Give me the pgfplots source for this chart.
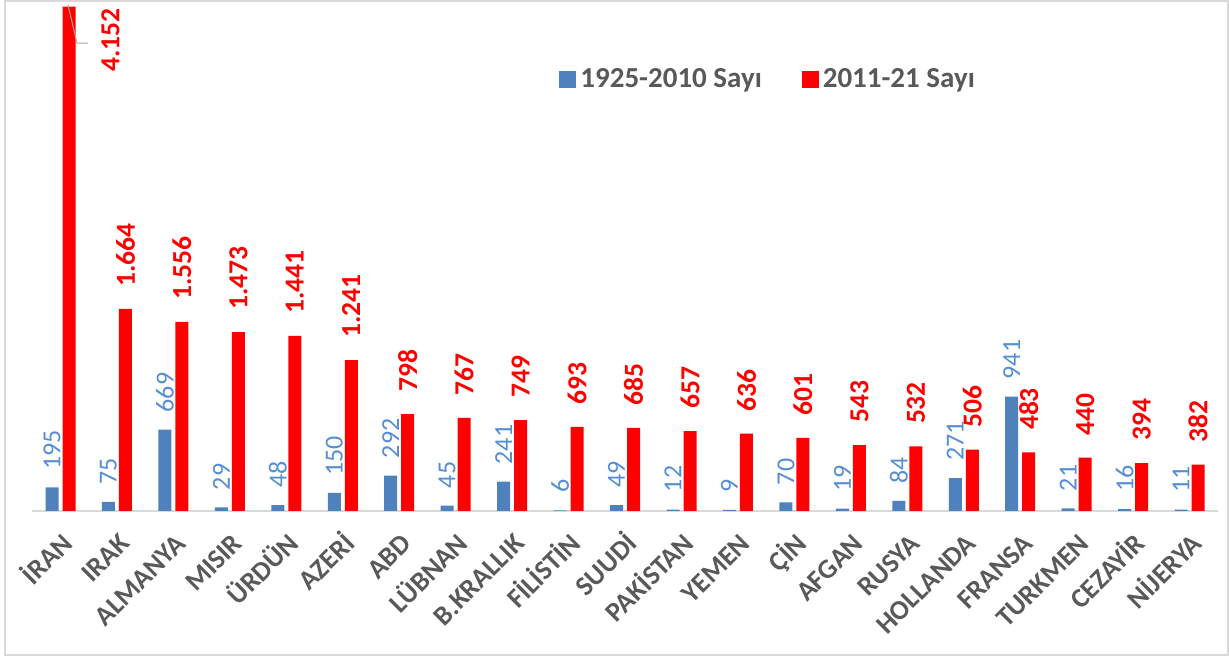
\documentclass[border=0pt]{standalone}
\usepackage{pgfplots}
\pgfplotsset{compat=1.18}
\usepackage{fontspec}
\setmainfont{Carlito}
\definecolor{barblue}{RGB}{79,129,189}
\definecolor{lblblue}{RGB}{85,142,213}
\definecolor{barred}{RGB}{255,0,0}
\definecolor{txtgray}{RGB}{89,89,89}
\definecolor{linegray}{RGB}{217,217,217}

\begin{document}
\begin{tikzpicture}
\useasboundingbox (0,0) rectangle (614.5pt,328.5pt);
\draw[linegray, line width=0.8pt] (2.5pt,1pt) rectangle (614pt,328pt);
\begin{axis}[
  at={(16.15pt,73pt)}, anchor=south west,
  scale only axis,
  width=592.75pt, height=253pt,
  ybar=2pt, bar width=6.5pt,
  xmin=-0.5, xmax=20.5,
  ymin=0, ymax=4165,
  clip=false,
  axis y line=none, ytick=\empty,
  axis x line*=bottom,
  x axis line style={linegray, line width=1pt},
  xtick={0,...,20},
  xticklabels={İRAN,IRAK,ALMANYA,MISIR,ÜRDÜN,AZERİ,ABD,LÜBNAN,B.KRALLIK,FİLİSTİN,SUUDİ,PAKİSTAN,YEMEN,ÇİN,AFGAN,RUSYA,HOLLANDA,FRANSA,TURKMEN,CEZAYİR,NİJERYA},
  major tick length=0pt,
  xticklabel style={yshift=-10.5pt, xshift=0.5pt, rotate=45, anchor=north east,
    inner sep=0pt, text height=9pt, font=\bfseries\fontsize{13.75}{16}\selectfont, text=txtgray},
  /pgf/number format/assume math mode=true,
  /pgf/number format/1000 sep={.},
  legend columns=2,
  legend image code/.code={\fill[#1] (0pt,-4.25pt) rectangle (8.5pt,4.25pt);},
  legend style={at={(0.4443,0.8518)}, anchor=west, draw=none, inner sep=0pt,
    font=\bfseries\fontsize{14.5}{17}\selectfont, text=txtgray,
    /tikz/every even column/.append style={column sep=18pt}},
]
% 1925-2010
\addplot[fill=barblue, draw=none, nodes near coords,
  every node near coord/.append style={font=\fontsize{13}{15}\selectfont, text=lblblue,
    rotate=90, anchor=west, inner sep=0pt, xshift=8.5pt}]
  coordinates {(0,195)(1,75)(2,669)(3,29)(4,48)(5,150)(6,292)(7,45)(8,241)(9,6)(10,49)
    (11,12)(12,9)(13,70)(14,19)(15,84)(16,271)(17,941)(18,21)(19,16)(20,11)};
\addlegendentry{1925-2010 Sayı}
% 2011-21
\addplot[fill=barred, draw=none,
  visualization depends on={value \coordindex \as \myidx},
  nodes near coords={\ifnum\myidx=0 \else\pgfmathprintnumber{\pgfplotspointmeta}\fi},
  every node near coord/.append style={font=\bfseries\fontsize{13.75}{16}\selectfont, text=barred,
    rotate=90, anchor=west, inner sep=0pt, xshift=11pt}]
  coordinates {(0,4152)(1,1664)(2,1556)(3,1473)(4,1441)(5,1241)(6,798)(7,767)(8,749)(9,693)(10,685)
    (11,657)(12,636)(13,601)(14,543)(15,532)(16,506)(17,483)(18,440)(19,394)(20,382)};
\addlegendentry{2011-21 Sayı}
\draw[gray!70, line width=0.5pt] (axis cs:0.133,4165) -- (axis cs:0.292,3852) -- (axis cs:0.487,3852);
\node[rotate=90, anchor=west, inner sep=0pt, text=barred, font=\bfseries\fontsize{13.75}{16}\selectfont]
  at (axis cs:0.886,3613) {4.152};
\end{axis}
\end{tikzpicture}
\end{document}
